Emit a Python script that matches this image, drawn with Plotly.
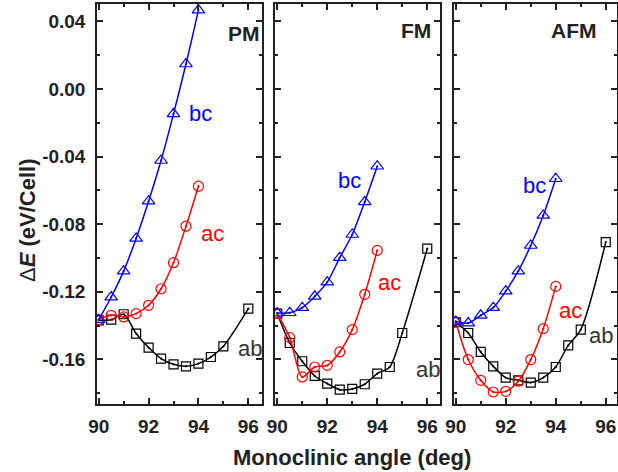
import plotly.graph_objects as go

# ---- data ----
angles_short = [90, 90.5, 91, 91.5, 92, 92.5, 93, 93.5, 94]
angles_long = [90, 90.5, 91, 91.5, 92, 92.5, 93, 93.5, 94, 94.5, 95, 96]

pm_bc = [-0.1365, -0.1231, -0.1078, -0.0884, -0.0664, -0.0423, -0.0147, 0.0148, 0.0467]
pm_ac = [-0.1365, -0.1339, -0.1349, -0.1329, -0.1280, -0.1182, -0.1028, -0.0812, -0.0575]
pm_ab = [-0.1369, -0.1365, -0.1333, -0.1447, -0.1530, -0.1595, -0.1629, -0.1641,
         -0.1625, -0.1586, -0.1523, -0.1300]

fm_bc = [-0.1326, -0.1324, -0.1294, -0.1227, -0.1143, -0.0998, -0.0861, -0.0668, -0.0457]
fm_ac = [-0.1329, -0.1471, -0.1704, -0.1645, -0.1635, -0.1556, -0.1424, -0.1215, -0.0955]
fm_ab = [-0.1329, -0.1503, -0.1611, -0.1698, -0.1743, -0.1779, -0.1775, -0.1747,
         -0.1684, -0.1645, -0.1444, -0.0945]

afm_bc = [-0.1375, -0.1385, -0.1339, -0.1294, -0.1196, -0.1078, -0.0926, -0.0748, -0.0531]
afm_ac = [-0.1379, -0.1601, -0.1724, -0.1793, -0.1789, -0.1729, -0.1601, -0.1418, -0.1168]
afm_ab = [-0.1379, -0.1444, -0.1556, -0.1641, -0.1708, -0.1724, -0.1737, -0.1708,
          -0.1645, -0.1517, -0.1424, -0.0906]

panel_names = ["PM", "FM", "AFM"]
series_labels = ["bc", "ac", "ab"]
x_ticks = [90, 92, 94, 96]
y_ticks = [-0.16, -0.12, -0.08, -0.04, 0.00, 0.04]
y_ticklabels = ["-0.16", "-0.12", "-0.08", "-0.04", "0.00", "0.04"]

panels = [
    (pm_bc, pm_ac, pm_ab),
    (fm_bc, fm_ac, fm_ab),
    (afm_bc, afm_ac, afm_ab),
]

# ---- styling ----
W, H = 618, 472
FONT = "Liberation Sans, Arial, sans-serif"
colors = {"bc": "#0000FF", "ac": "#FF0000", "ab": "#000000"}
label_colors = {"bc": "#0000FF", "ac": "#FF0000", "ab": "#333333"}
symbols = {"bc": "triangle-up-open-dot", "ac": "circle-open-dot", "ab": "square-open-dot"}
msizes = {"bc": 11, "ac": 10, "ab": 9}

# pixel domains
x_doms_px = [(97, 262), (275, 440), (454, 617)]
x_ranges = [(89.93, 96.55), (89.91, 96.51), (89.93, 96.45)]
y_dom = ((H - 404) / H, (H - 4) / H)
y_range = (-0.1864, 0.0503)

fig = go.Figure()

for i, (bc, ac, ab) in enumerate(panels):
    xa = "x" if i == 0 else f"x{i+1}"
    ya = "y" if i == 0 else f"y{i+1}"
    for name, xs, ys in [("ab", angles_long, ab), ("ac", angles_short, ac), ("bc", angles_short, bc)]:
        fig.add_trace(go.Scatter(
            x=xs, y=ys, mode="lines+markers", xaxis=xa, yaxis=ya,
            line=dict(color=colors[name], width=1.5, shape="spline", smoothing=0.8),
            marker=dict(symbol=symbols[name], size=msizes[name],
                        color=colors[name], line=dict(width=1.2, color=colors[name])),
            showlegend=False,
        ))

    axis_common = dict(
        showline=True, linecolor="#222", linewidth=1.5, mirror="allticks",
        ticks="inside", ticklen=6, tickwidth=1.5, tickcolor="#222",
        showgrid=False, zeroline=False, automargin=False,
        tickfont=dict(family=FONT, size=19, color="#222", weight="bold"),
    )
    xkey = "xaxis" if i == 0 else f"xaxis{i+1}"
    ykey = "yaxis" if i == 0 else f"yaxis{i+1}"
    x0, x1 = x_doms_px[i]
    fig.layout[xkey] = dict(
        axis_common, domain=[x0 / W, x1 / W], range=list(x_ranges[i]),
        tickvals=x_ticks, ticktext=[str(t) for t in x_ticks],
        minor=dict(dtick=1, tick0=90, ticks="inside", ticklen=3.5, tickwidth=1.5, tickcolor="#222"),
        anchor=ya, ticklabelstandoff=4,
    )
    fig.layout[ykey] = dict(
        axis_common, domain=list(y_dom), range=list(y_range),
        tickvals=y_ticks, ticktext=y_ticklabels, showticklabels=(i == 0),
        minor=dict(dtick=0.02, tick0=0, ticks="inside", ticklen=3.5, tickwidth=1.5, tickcolor="#222"),
        anchor=xa, ticklabelstandoff=6,
    )

# ---- annotations ----
annots = []
panel_label_pos = [(95.84, 0.0327), (95.55, 0.0345), (94.73, 0.0345)]
series_label_pos = [
    {"bc": (94.08, -0.0146), "ac": (94.56, -0.0856), "ab": (96.08, -0.1535)},
    {"bc": (92.90, -0.0540), "ac": (94.50, -0.1144), "ab": (96.03, -0.1660)},
    {"bc": (93.13, -0.0570), "ac": (94.60, -0.1310), "ab": (95.81, -0.1457)},
]
for i in range(3):
    xr = "x" if i == 0 else f"x{i+1}"
    yr = "y" if i == 0 else f"y{i+1}"
    px, py = panel_label_pos[i]
    annots.append(dict(x=px, y=py, xref=xr, yref=yr, text=f"<b>{panel_names[i]}</b>",
                       showarrow=False, xanchor="center", yanchor="middle",
                       font=dict(family=FONT, size=21, color="#222")))
    for s in series_labels:
        sx, sy = series_label_pos[i][s]
        annots.append(dict(x=sx, y=sy, xref=xr, yref=yr, text=s, showarrow=False,
                           xanchor="center", yanchor="middle",
                           font=dict(family=FONT, size=22, color=label_colors[s])))

annots.append(dict(x=352 / W, y=(H - 457) / H, xref="paper", yref="paper",
                   text="<b>Monoclinic angle (deg)</b>", showarrow=False,
                   xanchor="center", yanchor="middle",
                   font=dict(family=FONT, size=22, color="#222")))
annots.append(dict(x=27 / W, y=(H - 220) / H, xref="paper", yref="paper",
                   text="Δ<b><i>E</i> (eV/Cell)</b>", showarrow=False, textangle=-90,
                   xanchor="center", yanchor="middle",
                   font=dict(family=FONT, size=22, color="#222")))

fig.update_layout(
    width=W, height=H, margin=dict(l=0, r=0, t=0, b=0, pad=0), autosize=False,
    paper_bgcolor="white", plot_bgcolor="white",
    annotations=annots,
)

fig.write_html("out.html", config={"displayModeBar": False, "responsive": False},
               post_script="document.body.style.margin='0';document.body.style.padding='0';document.body.style.overflow='hidden';")
